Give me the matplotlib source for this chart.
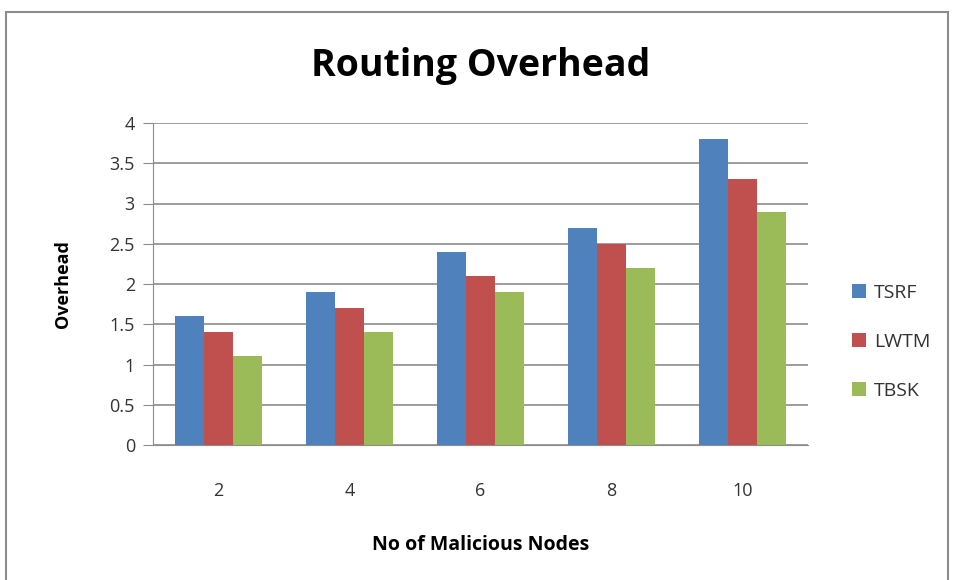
import matplotlib.pyplot as plt
import numpy as np
from matplotlib.patches import Rectangle

categories = ["2", "4", "6", "8", "10"]
tsrf = [1.6, 1.9, 2.4, 2.7, 3.8]
lwtm = [1.4, 1.7, 2.1, 2.5, 3.3]
tbsk = [1.1, 1.4, 1.9, 2.2, 2.9]

plt.rcParams['font.family'] = ['Open Sans', 'DejaVu Sans']

fig = plt.figure(figsize=(9.56, 5.8), dpi=100)
fig.patch.set_facecolor("white")

# chart frame
fig.patches.append(Rectangle((6 / 956, -0.01), 942 / 956, 1 - 12 / 580 + 0.01,
                             transform=fig.transFigure, fill=False,
                             edgecolor="#8c8c8c", linewidth=1.5))

ax = fig.add_axes([153 / 956, 1 - 445 / 580, 655 / 956, 322 / 580])

x = np.arange(len(categories))
w = 0.219
ax.bar(x - w, tsrf, w, color="#4F81BD", label="TSRF", zorder=3)
ax.bar(x, lwtm, w, color="#C0504D", label="LWTM", zorder=3)
ax.bar(x + w, tbsk, w, color="#9BBB59", label="TBSK", zorder=3)

ax.set_xlim(-0.5, len(categories) - 0.5)
ax.set_ylim(0, 4)
ax.set_yticks(np.arange(0, 4.01, 0.5))
ax.set_yticklabels(["0", "0.5", "1", "1.5", "2", "2.5", "3", "3.5", "4"])
ax.set_xticks(x)
ax.set_xticklabels(categories)
ax.yaxis.grid(True, color="#8c8c8c", linewidth=1.2, zorder=0)

for s in ["top", "right"]:
    ax.spines[s].set_visible(False)
ax.spines["left"].set_color("#8c8c8c")
ax.spines["bottom"].set_color("#8c8c8c")
ax.tick_params(axis="y", length=7, color="#8c8c8c", labelsize=13, pad=6, labelcolor="#333333")
ax.tick_params(axis="x", length=0, labelsize=13, pad=27, labelcolor="#333333")

ax.set_title("Routing Overhead", fontsize=27, fontweight="bold", pad=34)
ax.set_ylabel("Overhead", fontsize=13, fontweight="bold", labelpad=27)
ax.set_xlabel("No of Malicious Nodes", fontsize=14, fontweight="bold", labelpad=25)

ax.legend(loc="center left", bbox_to_anchor=(1.04, 0.32), frameon=False,
          fontsize=14, handlelength=0.75, handleheight=0.75, handletextpad=0.4,
          labelspacing=1.6, labelcolor="#333333")

fig.savefig("out.png", dpi=100, facecolor="white")
